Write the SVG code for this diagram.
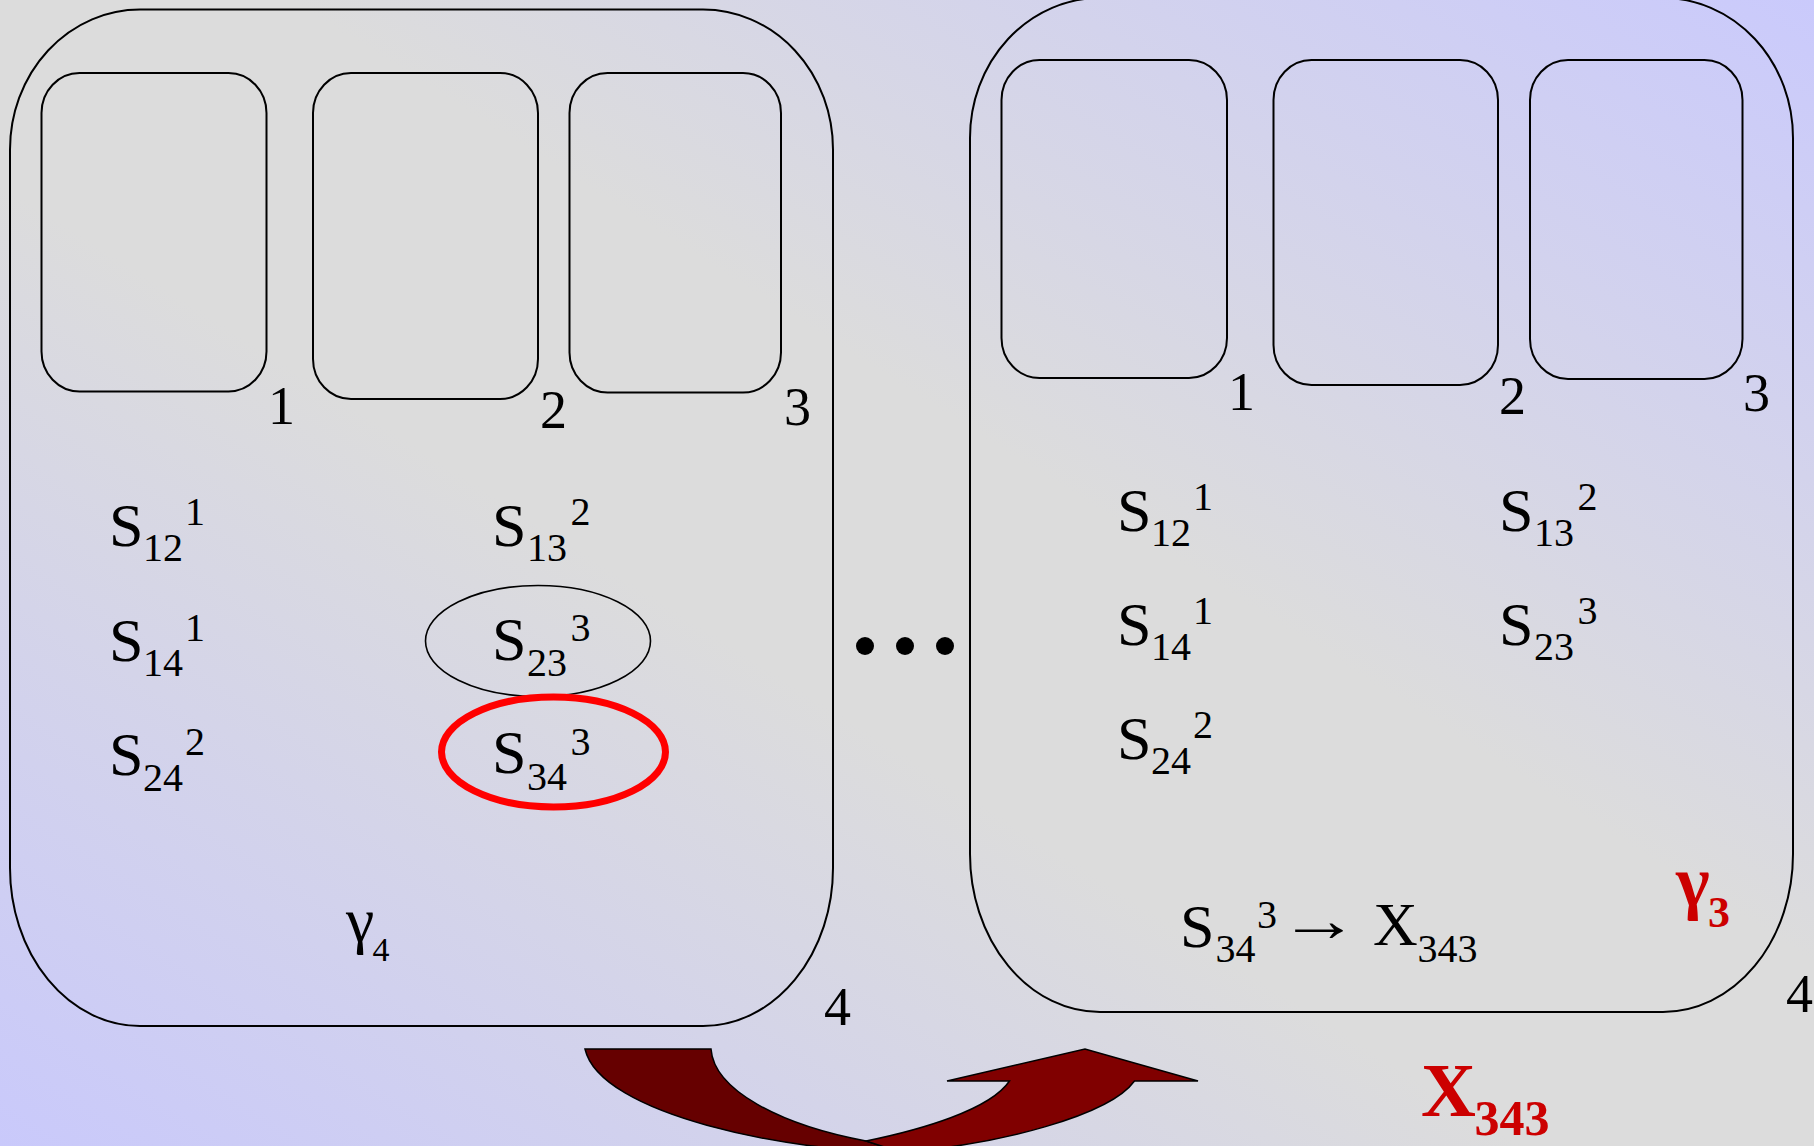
<svg xmlns="http://www.w3.org/2000/svg" width="1814" height="1146" viewBox="0 0 1814 1146">
<defs>
<linearGradient id="bg" x1="0" y1="1" x2="1" y2="0">
<stop offset="0" stop-color="#c9c9fb"/>
<stop offset="0.42" stop-color="#dcdcdc"/>
<stop offset="0.58" stop-color="#dcdcdc"/>
<stop offset="1" stop-color="#cacafc"/>
</linearGradient>
<style>
.frame{fill:none;stroke:#000;stroke-width:2}
.box{fill:none;stroke:#000;stroke-width:2}
.t{font-family:"Liberation Serif","Times New Roman",serif;fill:#000}
.big{font-size:62px}
.sm{font-size:40px}
.num{font-size:54px}
.red{fill:#cc0000;font-weight:bold}
</style>
</defs>
<rect x="0" y="0" width="1814" height="1146" fill="url(#bg)"/>

<g id="panel-left">
<path class="frame" d="M140,9.5 H703 A130,140 0 0 1 833,149.5 V868 A130,158 0 0 1 703,1026 H140 A130,158 0 0 1 10,868 V149.5 A130,140 0 0 1 140,9.5 Z"/>
<g id="left-box-1"><rect class="box" x="41.5" y="73" width="225" height="318.5" rx="38" ry="40"/><text class="t num" x="268" y="424">1</text></g>
<g id="left-box-2"><rect class="box" x="313" y="73" width="225" height="326" rx="38" ry="40"/><text class="t num" x="540" y="428">2</text></g>
<g id="left-box-3"><rect class="box" x="569.5" y="73" width="211.5" height="319.5" rx="38" ry="40"/><text class="t num" x="784" y="425">3</text></g>
<text class="t num" x="824" y="1025">4</text>
<g id="left-s12"><text class="t"><tspan class="big" x="109" y="546">S</tspan><tspan class="sm" x="143" y="561">12</tspan><tspan class="sm" x="185" y="525">1</tspan></text></g>
<g id="left-s14"><text class="t"><tspan class="big" x="109" y="660.5">S</tspan><tspan class="sm" x="143" y="676">14</tspan><tspan class="sm" x="185" y="640.5">1</tspan></text></g>
<g id="left-s24"><text class="t"><tspan class="big" x="109" y="775">S</tspan><tspan class="sm" x="143" y="790.5">24</tspan><tspan class="sm" x="185" y="755">2</tspan></text></g>
<g id="left-s13"><text class="t"><tspan class="big" x="492" y="546">S</tspan><tspan class="sm" x="527" y="561">13</tspan><tspan class="sm" x="570.5" y="525">2</tspan></text></g>
<g id="left-s23"><ellipse cx="538" cy="641" rx="112.5" ry="55.5" fill="none" stroke="#000" stroke-width="1.6"/><text class="t"><tspan class="big" x="492" y="660">S</tspan><tspan class="sm" x="527" y="676">23</tspan><tspan class="sm" x="570.5" y="641">3</tspan></text></g>
<g id="left-s34"><ellipse cx="553.5" cy="752" rx="112" ry="55" fill="none" stroke="#ff0000" stroke-width="7"/><text class="t"><tspan class="big" x="492" y="773">S</tspan><tspan class="sm" x="527" y="790">34</tspan><tspan class="sm" x="570.5" y="755">3</tspan></text></g>
<g id="left-gamma"><text class="t"><tspan x="346" y="941" font-size="64">γ</tspan><tspan x="372.5" y="961" font-size="34">4</tspan></text></g>
</g>

<g id="ellipsis">
<circle cx="865" cy="646" r="9" fill="#000"/>
<circle cx="905" cy="646" r="9" fill="#000"/>
<circle cx="945" cy="646" r="9" fill="#000"/>
</g>

<g id="panel-right">
<path class="frame" d="M1100,-2 H1663 A130,140 0 0 1 1793,138 V854 A130,158 0 0 1 1663,1012 H1100 A130,158 0 0 1 970,854 V138 A130,140 0 0 1 1100,-2 Z"/>
<g id="right-box-1"><rect class="box" x="1001.5" y="60" width="225.5" height="318" rx="38" ry="40"/><text class="t num" x="1228" y="410">1</text></g>
<g id="right-box-2"><rect class="box" x="1273.5" y="60" width="224.5" height="325" rx="38" ry="40"/><text class="t num" x="1499" y="414">2</text></g>
<g id="right-box-3"><rect class="box" x="1530" y="60" width="212.5" height="319" rx="38" ry="40"/><text class="t num" x="1743" y="411">3</text></g>
<text class="t num" x="1786" y="1012">4</text>
<g id="right-s12"><text class="t"><tspan class="big" x="1117" y="531">S</tspan><tspan class="sm" x="1151" y="546">12</tspan><tspan class="sm" x="1193" y="510">1</tspan></text></g>
<g id="right-s14"><text class="t"><tspan class="big" x="1117" y="645">S</tspan><tspan class="sm" x="1151" y="660">14</tspan><tspan class="sm" x="1193" y="624">1</tspan></text></g>
<g id="right-s24"><text class="t"><tspan class="big" x="1117" y="759">S</tspan><tspan class="sm" x="1151" y="774">24</tspan><tspan class="sm" x="1193" y="738">2</tspan></text></g>
<g id="right-s13"><text class="t"><tspan class="big" x="1499" y="531">S</tspan><tspan class="sm" x="1534" y="546">13</tspan><tspan class="sm" x="1577.5" y="510">2</tspan></text></g>
<g id="right-s23"><text class="t"><tspan class="big" x="1499" y="645">S</tspan><tspan class="sm" x="1534" y="660">23</tspan><tspan class="sm" x="1577.5" y="624">3</tspan></text></g>
<g id="right-rule"><text class="t"><tspan class="big" x="1180" y="946.5">S</tspan><tspan class="sm" x="1215.5" y="961.5">34</tspan><tspan class="sm" x="1257" y="928">3</tspan></text><text class="t big" transform="translate(1279,941) scale(1.3,1)" x="0" y="0">→</text><text class="t"><tspan class="big" x="1373" y="945">X</tspan><tspan class="sm" x="1417.5" y="961.5">343</tspan></text></g>
<g id="right-gamma"><text class="t red"><tspan x="1676" y="906" font-size="72">γ</tspan><tspan x="1708" y="926.5" font-size="44">3</tspan></text></g>
</g>

<g id="result-label"><text class="t red"><tspan x="1421" y="1116" font-size="76">X</tspan><tspan x="1474.5" y="1135" font-size="50">343</tspan></text></g>

<g id="connectors">
<path d="M585,1049 L711,1049 C714,1090 780,1125 866,1141 L900,1152 C790,1152 600,1115 585,1049 Z" fill="#660000" stroke="#000" stroke-width="1.5" stroke-linejoin="miter"/>
<path d="M866,1141 C920,1130 990,1110 1009.5,1081 L947,1081 L1085,1049 L1198,1081 L1134.5,1081 C1110,1115 1000,1145 900,1152 Z" fill="#800000" stroke="#000" stroke-width="1.5" stroke-linejoin="miter"/>
</g>
</svg>
